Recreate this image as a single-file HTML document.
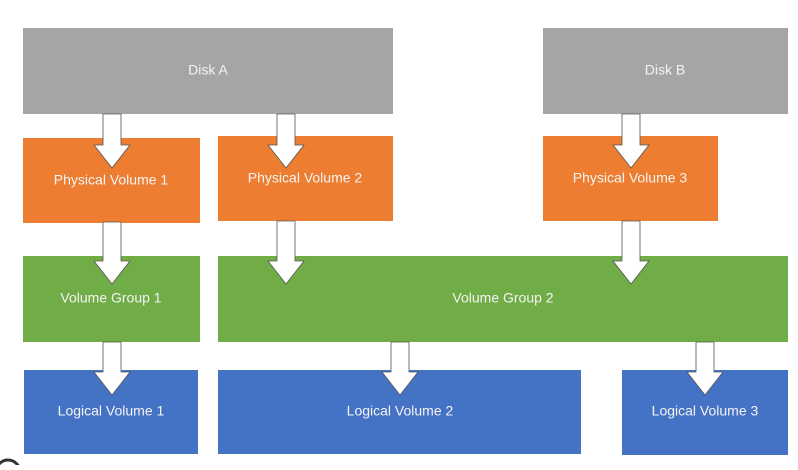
<!DOCTYPE html>
<html><head><meta charset="utf-8"><style>
body{margin:0;width:798px;height:465px;background:#fff;overflow:hidden}
svg text{font-family:"Liberation Sans",sans-serif;font-size:14px;fill:#f4f4f4;text-anchor:middle;dominant-baseline:middle}
</style></head><body>
<svg width="798" height="465" xmlns="http://www.w3.org/2000/svg">
<rect x="23" y="28" width="370" height="86" fill="#a5a5a5"/>
<rect x="543" y="28" width="245" height="86" fill="#a5a5a5"/>
<rect x="23" y="138" width="177" height="85" fill="#ed7d31"/>
<rect x="218" y="136" width="175" height="85" fill="#ed7d31"/>
<rect x="543" y="136" width="175" height="85" fill="#ed7d31"/>
<rect x="23" y="256" width="177" height="86" fill="#70ad47"/>
<rect x="218" y="256" width="570" height="86" fill="#70ad47"/>
<rect x="24" y="370" width="174" height="84" fill="#4472c4"/>
<rect x="218" y="370" width="363" height="84" fill="#4472c4"/>
<rect x="622" y="370" width="166" height="85" fill="#4472c4"/>
<g fill="#fff" stroke="#555" stroke-width="0.8">
<path d="M103 114 H121 V145 H130 L112 168 L94 145 H103 Z"/>
<path d="M277 114 H295 V145 H304 L286 168 L268 145 H277 Z"/>
<path d="M622 114 H640 V145 H649 L631 168 L613 145 H622 Z"/>
<path d="M103 222 H121 V261 H130 L112 284 L94 261 H103 Z"/>
<path d="M277 221 H295 V261 H304 L286 284 L268 261 H277 Z"/>
<path d="M622 221 H640 V261 H649 L631 284 L613 261 H622 Z"/>
<path d="M103 342 H121 V372 H130 L112 395 L94 372 H103 Z"/>
<path d="M391 342 H409 V372 H418 L400 395 L382 372 H391 Z"/>
<path d="M696 342 H714 V372 H723 L705 395 L687 372 H696 Z"/>
</g>
<circle cx="8" cy="472" r="12" fill="none" stroke="#333" stroke-width="3"/>
<text x="208" y="71">Disk A</text>
<text x="665" y="71">Disk B</text>
<text x="111" y="181">Physical Volume 1</text>
<text x="305" y="179">Physical Volume 2</text>
<text x="630" y="179">Physical Volume 3</text>
<text x="111" y="299">Volume Group 1</text>
<text x="503" y="299">Volume Group 2</text>
<text x="111" y="412">Logical Volume 1</text>
<text x="400" y="412">Logical Volume 2</text>
<text x="705" y="412">Logical Volume 3</text>
</svg>
</body></html>
